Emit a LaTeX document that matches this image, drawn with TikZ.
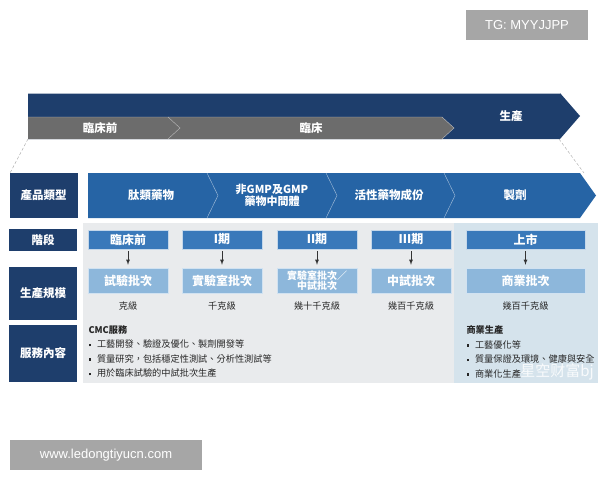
\documentclass[tikz,border=0pt]{standalone}
\usepackage{fontspec}
\setmainfont{Noto Sans CJK TC}
\newfontfamily\markfont{Liberation Sans}
\usetikzlibrary{positioning,calc}
\definecolor{navy}{RGB}{30,62,108}
\definecolor{prodblue}{RGB}{38,100,165}
\definecolor{stageblue}{RGB}{58,121,186}
\definecolor{scaleblue}{RGB}{141,183,219}
\definecolor{bandgray}{RGB}{108,108,108}
\definecolor{panelgray}{RGB}{233,235,237}
\definecolor{panelblue}{RGB}{213,227,236}
\definecolor{markgray}{RGB}{166,166,166}
\newcommand{\bulletsq}{\raisebox{1.5pt}{\rule{2.5pt}{2.5pt}}\hspace{6pt}}

\begin{document}
\begin{tikzpicture}[x=1pt,y=-1pt,
      head/.style={text=white,font=\fontsize{11.5}{13}\selectfont\bfseries},
      leftbox/.style={fill=navy,minimum width=68pt,text=white,font=\fontsize{11.5}{13}\selectfont\bfseries},
      stagebox/.style={fill=stageblue,draw=white!70!stageblue,minimum width=80pt,minimum height=19pt,inner sep=1pt,text=white,font=\fontsize{12}{13}\selectfont\bfseries},
      scalebox/.style={fill=scaleblue,draw=white!60!scaleblue,minimum width=80pt,minimum height=25pt,inner sep=1pt,text=white,font=\fontsize{12}{13}\selectfont\bfseries},
      note/.style={text=black!85,font=\fontsize{9.2}{14.5}\selectfont},
      markbox/.style={fill=markgray,text=white,font=\markfont\fontsize{13}{15}\selectfont,inner sep=0pt}
      ]
      \useasboundingbox (0,0) rectangle (600,480);

      % stage bands on top
      \fill[navy] (28,93) -- (560,93) -- (580,116) -- (560,139) -- (28,139) -- cycle;
      \draw[white!65!navy] (28,93.5) -- (560,93.5);
      \fill[bandgray] (28,117) -- (442,117) -- (454,128) -- (442,139) -- (28,139) -- cycle;
      \draw[white!55!bandgray] (168,117) -- (180,128) -- (168,139);
      \draw[white!55!bandgray] (28,117) -- (442,117) -- (454,128) -- (442,139);
      \node[head] (preclin) at (100,128) {臨床前};
      \node[head] (clin) at (311,128) {臨床};
      \node[head] (prod) at (511,116) {生產};
      \draw[densely dashed,gray!70] (28,139) -- (10,173);
      \draw[densely dashed,gray!70] (559,139) -- (584,173);

      % product types
      \fill[prodblue] (88,173) -- (580,173) -- (596,195.5) -- (580,218) -- (88,218) -- cycle;
      \foreach \sep in {207,326,444}{
        \draw[white!60!prodblue] (\sep,173) -- (\sep+11,195.5) -- (\sep,218);
      }
      \node[leftbox,minimum height=45pt] (ptype) at (43.5,195.5) {產品類型};
      \node[head] (pep) at (151,195.5) {肽類藥物};
      \node[head,align=center,font=\fontsize{11}{12.5}\selectfont\bfseries] (gmp) at (272,195.5) {非GMP及GMP\\藥物中間體};
      \node[head] (api) at (389,195.5) {活性藥物成份};
      \node[head] (form) at (515,195.5) {製劑};

      % panel
      \fill[panelgray] (83,223) rectangle (598,383);
      \fill[panelblue] (454,223) rectangle (598,383);
      \node[leftbox,minimum height=22pt] (stage) at (43,240) {階段};
      \node[leftbox,minimum height=53pt] (scale) at (43,293.5) {生產規模};
      \node[leftbox,minimum height=57pt] (serv) at (43,353.5) {服務內容};

      \foreach \x/\name/\txt/\amount in {128/pre/臨床前/克級, 222/pone/I期/千克級, 317/ptwo/II期/幾十千克級, 411/pthree/III期/幾百千克級}{
        \node[stagebox] (\name) at (\x,239.5) {\txt};
        \node[note] (\name-kg) at (\x,305.5) {\amount};
      }
      \node[stagebox,minimum width=119pt] (mkt) at (525.5,239.5) {上市};
      \node[note] (mkt-kg) at (525.5,305.5) {幾百千克級};

      \node[scalebox] (s-pre) at (128,280.5) {試驗批次};
      \node[scalebox] (s-pone) at (222,280.5) {實驗室批次};
      \node[scalebox,align=center,font=\fontsize{10}{10.5}\selectfont\bfseries] (s-ptwo) at (317,280.5) {實驗室批次／\\中試批次};
      \node[scalebox] (s-pthree) at (411,280.5) {中試批次};
      \node[scalebox,minimum width=119pt] (s-mkt) at (525.5,280.5) {商業批次};

      \foreach \name in {pre,pone,ptwo,pthree,mkt}{
        \draw[-latex,thick,black!80,shorten <=2pt,shorten >=3pt] (\name) -- (s-\name);
      }

      % services
      \node[note,anchor=north west,align=left] (cmc) at (85,322) {\textbf{CMC服務}\\
        \bulletsq 工藝開發、驗證及優化、製劑開發等\\
        \bulletsq 質量研究，包括穩定性測試、分析性測試等\\
        \bulletsq 用於臨床試驗的中試批次生產};
      \node[note,anchor=north west,align=left] (comm) at (463,322) {\textbf{商業生產}\\
        \bulletsq 工藝優化等\\
        \bulletsq 質量保證及環境、健康與安全\\
        \bulletsq 商業化生產};
      \node[text=white,opacity=0.85,font=\fontsize{15}{15}\selectfont] (wm) at (557,372) {星空财富bj};

      % marks
      \node[markbox,minimum width=122pt,minimum height=30pt] (tg) at (527,25) {TG: MYYJJPP};
      \node[markbox,minimum width=192pt,minimum height=30pt] (web) at (106,455) {www.ledongtiyucn.com};
    \end{tikzpicture}
\end{document}
